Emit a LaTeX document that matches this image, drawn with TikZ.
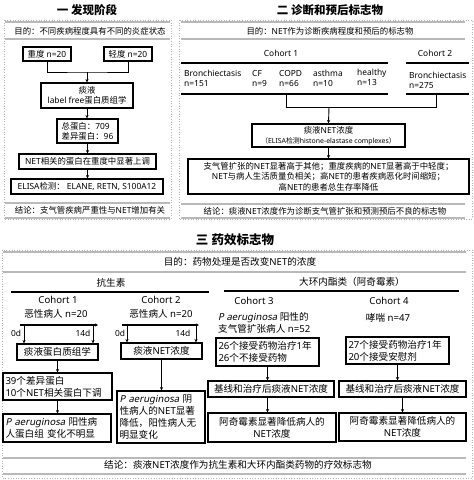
\documentclass[tikz,border=0pt]{standalone}
\usepackage{fontspec}
\setmainfont{Noto Sans}
\newfontfamily\cjkfont{Noto Sans CJK SC}
\newfontfamily\slantfont{Noto Sans}[FakeSlant=0.2]
\XeTeXinterchartokenstate=1
\newXeTeXintercharclass\CJKcls
\newcount\cjkcc
\cjkcc="3000
\loop\XeTeXcharclass\cjkcc=\CJKcls \advance\cjkcc by 1 \ifnum\cjkcc<"A000 \repeat
\cjkcc="FF00
\loop\XeTeXcharclass\cjkcc=\CJKcls \advance\cjkcc by 1 \ifnum\cjkcc<"FFF0 \repeat
\XeTeXinterchartoks 0 \CJKcls = {\begingroup\cjkfont}
\XeTeXinterchartoks 4095 \CJKcls = {\begingroup\cjkfont}
\XeTeXinterchartoks \CJKcls 0 = {\endgroup}
\XeTeXinterchartoks \CJKcls 4095 = {\endgroup}
\usetikzlibrary{arrows.meta}
\newcommand{\pae}{{\slantfont P aeruginosa}}
\begin{document}
\begin{tikzpicture}[x=1pt,y=-1pt,
  box/.style={draw,line width=1.1pt,inner sep=2pt},
  arr/.style={line width=0.9pt,-{Stealth[length=3.5pt,width=3.2pt]}},
  ln/.style={line width=0.9pt},
  rulel/.style={line width=1.1pt},
  grule/.style={line width=1.2pt,gray!55},
  frame/.style={dotted,gray!60,line width=0.6pt},
  ttl/.style={font=\fontsize{11.5}{13}\selectfont\bfseries},
  ttlb/.style={font=\fontsize{12.5}{14}\selectfont\bfseries},
  fa/.style={font=\fontsize{8.4}{10.3}\selectfont},
  fb/.style={font=\fontsize{9.6}{11.8}\selectfont}]
\useasboundingbox (0,0) rectangle (474,480);
% ---------- frames and grey rules ----------
\draw[frame] (4,20) rectangle (171,219);
\draw[frame] (179,20) rectangle (472,219);
\draw[frame] (2,250) rectangle (472,478);
\foreach \y in {22,39,203,218} \draw[grule] (5,\y) -- (170,\y);
\foreach \y in {22,39,204,218} \draw[grule] (181,\y) -- (465,\y);
\foreach \y in {252,272,458,474} \draw[grule] (3,\y) -- (466,\y);
% ---------- Panel 1 ----------
\begin{scope}[every node/.append style={fa}]
\node[ttl] (t1) at (87,10) {一 发现阶段};
\node (g1) at (90,31) {目的：不同疾病程度具有不同的炎症状态};
\node[box,minimum width=48,minimum height=14] (zd) at (47,54) {重度 n=20};
\node[box,minimum width=48,minimum height=14] (qd) at (128,54) {轻度 n=20};
\coordinate (m1) at (87,72);
\node[box,minimum width=92,minimum height=25,align=center] (sp) at (87,95.5) {痰液\\label free蛋白质组学};
\node[box,minimum width=61,minimum height=24,align=left] (zb) at (87.5,131) {总蛋白：709\\差异蛋白：96};
\node[box,minimum width=137,minimum height=15] (nt) at (87.5,161.5) {NET相关的蛋白在重度中显著上调};
\node[box,minimum width=152,minimum height=15] (el) at (87,186.5) {ELISA检测：~ELANE, RETN, S100A12};
\node (c1) at (90,210.5) {结论：支气管疾病严重性与NET增加有关};
\draw[ln] (zd.south) |- (m1) -| (qd.south);
\draw[arr] (m1) -- (sp.north);
\draw[arr] (sp) -- (sp |- zb.north);
\draw[arr] (zb) -- (zb |- nt.north);
\draw[arr] (nt) -- (nt |- el.north);
\end{scope}
% ---------- Panel 2 ----------
\begin{scope}[every node/.append style={fa}]
\node[ttl] (t2) at (330,10) {二 诊断和预后标志物};
\node (g2) at (330,31) {目的：NET作为诊断疾病程度和预后的标志物};
\node (co1) at (281,53) {Cohort 1};
\node (co2) at (435,53) {Cohort 2};
\draw[rulel] (181,63) -- (388,63);
\draw[rulel] (406,63) -- (469,63);
\draw[rulel] (181,94) -- (388,94);
\draw[rulel] (406,94) -- (469,94);
\node[anchor=west,align=left,inner sep=0] (b1) at (184,78.5) {Bronchiectasis\\n=151};
\node[anchor=west,align=left,inner sep=0] (cf) at (252,78.5) {CF\\n=9};
\node[anchor=west,align=left,inner sep=0] (cp) at (279,78.5) {COPD\\n=66};
\node[anchor=west,align=left,inner sep=0] (as) at (313,78) {asthma\\n=10};
\node[anchor=west,align=left,inner sep=0] (hl) at (357,77) {healthy\\n=13};
\node[anchor=west,align=left,inner sep=0] (b2) at (409,80) {Bronchiectasis\\n=275};
\coordinate (v1a) at (286,94);
\coordinate (v1b) at (286,107);
\coordinate (v2a) at (436,94);
\coordinate (v2b) at (436,107);
\coordinate (m2) at (329,107);
\draw[ln] (v1a) -- (v1b) -- (v2b) -- (v2a);
\node[box,minimum width=153,minimum height=23,align=center] (nc) at (328.5,135.5) {痰液NET浓度\\{\fontsize{6.9}{8}\selectfont（ELISA检测histone-elastase complexes）}};
\draw[arr] (m2) -- (nc.north);
\node[box,minimum width=281,minimum height=35,align=center] (rs) at (328.5,176.5) {支气管扩张的NET显著高于其他；重度疾病的NET显著高于中轻度；\\NET与病人生活质量负相关；高NET的患者疾病恶化时间缩短；\\高NET的患者总生存率降低};
\draw[arr] (nc) -- (nc |- rs.north);
\node (c2) at (325,211) {结论：痰液NET浓度作为诊断支气管扩张和预测预后不良的标志物};
\end{scope}
% ---------- Panel 3 ----------
\begin{scope}[every node/.append style={fb}]
\node[ttlb] (t3) at (235,240) {三 药效标志物};
\node (g3) at (240,262) {目的：药物处理是否改变NET的浓度};
\node (ab) at (111,283) {抗生素};
\draw[rulel] (11,292) -- (209,292);
\node (ml) at (352,282) {大环内酯类（阿奇霉素）};
\draw[rulel] (224,291) -- (459,291);
\node (k1) at (58,300) {Cohort 1};
\node (k1n) at (56,314) {恶性病人 n=20};
\node (k2) at (161,300) {Cohort 2};
\node (k2n) at (161,314) {恶性病人 n=20};
\node (k3) at (254,301) {Cohort 3};
\node[anchor=west,align=left,inner sep=0] (k3n) at (218,322.5) {\pae{} 阳性的\\支气管扩张病人 n=52};
\node (k4) at (389,301) {Cohort 4};
\node (k4n) at (388,318) {哮喘 n=47};
% cohort 1
\coordinate (l1a) at (20,325);
\coordinate (l1b) at (98,325);
\draw[line width=1.4pt,-{Stealth[length=3pt,width=3pt]}] (l1a) -- (l1b);
\coordinate (d1a) at (24,325);
\coordinate (d1b) at (93,325);
\node[box,minimum width=81,minimum height=16] (p1) at (57.5,352) {痰液蛋白质组学};
\draw[arr] (d1a) -- (d1a |- p1.north);
\draw[arr] (d1b) -- (d1b |- p1.north);
\node[fa] (o1) at (16,333) {0d};
\node[fa] (f1) at (83,333) {14d};
\node[box,minimum width=109,minimum height=27,text width=104,align=left] (p2) at (57.5,386.5) {39个差异蛋白\\10个NET相关蛋白下调};
\node[box,minimum width=108,minimum height=28,text width=103,align=left] (p3) at (57,428) {\pae{} 阳性病\\人蛋白组 变化不明显};
\draw[arr] (p1) -- (p1 |- p2.north);
\draw[arr] (p2) -- (p2 |- p3.north);
% cohort 2
\coordinate (l2a) at (122,325);
\coordinate (l2b) at (199,325);
\draw[line width=1.4pt,-{Stealth[length=3pt,width=3pt]}] (l2a) -- (l2b);
\coordinate (d2a) at (127,325);
\coordinate (d2b) at (196,325);
\node[box,minimum width=81,minimum height=16] (q1) at (161.5,351) {痰液NET浓度};
\draw[arr] (d2a) -- (d2a |- q1.north);
\draw[arr] (d2b) -- (d2b |- q1.north);
\node[fa] (o2) at (120,333) {0d};
\node[fa] (f2) at (183,333) {14d};
\node[box,minimum width=88,minimum height=52,text width=83,align=left] (q2) at (161,417) {\pae{} 阴\\性病人的NET显著\\降低，阳性病人无\\明显变化};
\draw[arr] (q1) -- (q1 |- q2.north);
% cohort 3
\node[box,minimum width=103,minimum height=28,text width=98,align=left] (r1) at (267.5,352) {26个接受药物治疗1年\\26个不接受药物};
\node[box,minimum width=126,minimum height=16] (r2) at (271,389) {基线和治疗后痰液NET浓度};
\node[box,minimum width=128,minimum height=29,align=center] (r3) at (272,427.5) {阿奇霉素显著降低病人的\\NET浓度};
\draw[arr] (r1) -- (r1 |- r2.north);
\draw[arr] (r1 |- r2.south) -- (r1 |- r3.north);
% cohort 4
\node[box,minimum width=103,minimum height=27,text width=98,align=left] (s1) at (397.5,350.5) {27个接受药物治疗1年\\20个接受安慰剂};
\node[box,minimum width=127,minimum height=16] (s2) at (402.5,389) {基线和治疗后痰液NET浓度};
\node[box,minimum width=127,minimum height=28,align=center] (s3) at (402.5,427) {阿奇霉素显著降低病人的\\NET浓度};
\draw[arr] (s1) -- (s1 |- s2.north);
\draw[arr] (s2) -- (s2 |- s3.north);
\node (c3) at (238,465) {结论：痰液NET浓度作为抗生素和大环内酯类药物的疗效标志物};
\end{scope}
\end{tikzpicture}
\end{document}
